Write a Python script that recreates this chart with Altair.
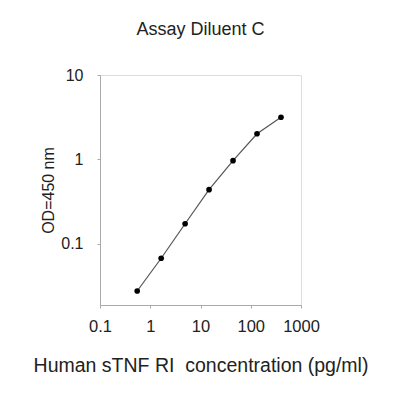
import altair as alt
import pandas as pd

conc = [0.55, 1.65, 4.94, 14.8, 44.4, 133.3, 400]
od = [0.0274, 0.067, 0.172, 0.436, 0.963, 2.01, 3.15]
x_ticks = [0.1, 1, 10, 100, 1000]
y_ticks = [0.1, 1, 10]

df = pd.DataFrame({"conc": conc, "od": od})

FONT = "Liberation Sans"

x = alt.X("conc:Q",
          scale=alt.Scale(type="log", domain=[0.1, 1000], nice=False),
          axis=alt.Axis(values=x_ticks, format="~g", title="Human sTNF RI \u00a0concentration (pg/ml)",
                        grid=False, tickSize=3, labelPadding=10, titlePadding=22, labelFlush=False,
                        labelFontSize=16.5, titleFontSize=19.5, titleFontWeight="normal",
                        domainColor="#aaaaaa", tickColor="#aaaaaa", labelColor="#222222",
                        titleColor="#222222", labelFont=FONT, titleFont=FONT))
y = alt.Y("od:Q",
          scale=alt.Scale(type="log", domain=[0.0187, 10], nice=False),
          axis=alt.Axis(values=y_ticks, format="~g", title="OD=450 nm",
                        grid=False, tickSize=3, labelPadding=14, titlePadding=4, labelFlush=False,
                        labelFontSize=16, titleFontSize=16, titleFontWeight="normal",
                        domainColor="#aaaaaa", tickColor="#aaaaaa", labelColor="#222222",
                        titleColor="#222222", labelFont=FONT, titleFont=FONT))

line = alt.Chart(df).mark_line(color="#555555", strokeWidth=1.2).encode(x=x, y=y)
pts = alt.Chart(df).mark_circle(color="#000000", size=32, opacity=1).encode(x=x, y=y)

chart = (line + pts).properties(
    width=201, height=230,
    title=alt.TitleParams("Assay Diluent C", fontSize=18, fontWeight="normal", font=FONT,
                          color="#222222", offset=28, anchor="middle"),
    autosize=alt.AutoSizeParams(type="none"),
    padding={"left": 92, "top": 67, "right": 91, "bottom": 87},
).configure_view(stroke="#aaaaaa", strokeWidth=1.5).configure(background="white")

chart.save("out.html", embed_options={"renderer": "svg", "actions": False})
